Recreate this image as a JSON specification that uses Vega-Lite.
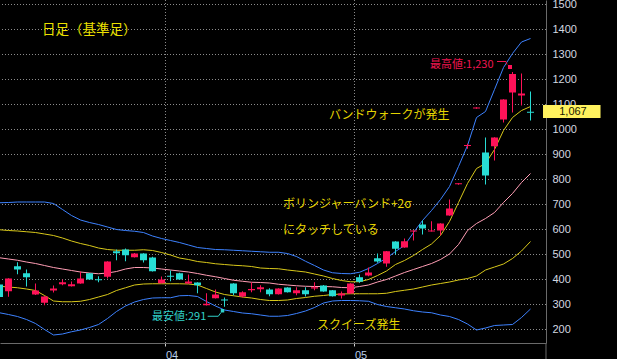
{
  "$schema": "https://vega.github.io/schema/vega-lite/v6.json",
  "width": 546,
  "height": 343,
  "autosize": {"type": "none"},
  "padding": {"left": 0, "top": 0, "right": 71, "bottom": 16},
  "background": "#000000",
  "config": {
    "view": {"stroke": null},
    "scale": {"continuousPadding": 0}
  },
  "datasets": {
    "k": [
      {"n":1,"o":380,"h":382,"l":328,"c":330,"u2":707,"u1":599,"m":487,"l1":373,"l2":267},
      {"n":2,"o":353,"h":405,"l":331,"c":404,"u2":708,"u1":596,"m":482,"l1":370,"l2":260},
      {"n":3,"o":453,"h":469,"l":421,"c":440,"u2":710,"u1":594,"m":477,"l1":367,"l2":252},
      {"n":4,"o":425,"h":440,"l":372,"c":409,"u2":710,"u1":591,"m":470,"l1":362,"l2":240},
      {"n":5,"o":340,"h":384,"l":338,"c":356,"u2":710,"u1":588,"m":464,"l1":356,"l2":224},
      {"n":6,"o":307,"h":333,"l":297,"c":332,"u2":710,"u1":582,"m":456,"l1":336,"l2":200},
      {"n":7,"o":356,"h":376,"l":348,"c":364,"u2":704,"u1":576,"m":448,"l1":314,"l2":178},
      {"n":8,"o":381,"h":400,"l":377,"c":389,"u2":680,"u1":566,"m":442,"l1":311,"l2":182},
      {"n":9,"o":373,"h":392,"l":372,"c":381,"u2":656,"u1":554,"m":436,"l1":311,"l2":191},
      {"n":10,"o":384,"h":432,"l":383,"c":404,"u2":638,"u1":544,"m":430,"l1":313,"l2":198},
      {"n":11,"o":425,"h":426,"l":399,"c":400,"u2":628,"u1":536,"m":426,"l1":320,"l2":208},
      {"n":12,"o":401,"h":413,"l":389,"c":397,"u2":620,"u1":526,"m":423,"l1":330,"l2":220},
      {"n":13,"o":411,"h":473,"l":404,"c":472,"u2":610,"u1":520,"m":426,"l1":340,"l2":244},
      {"n":14,"o":513,"h":520,"l":477,"c":505,"u2":600,"u1":517,"m":432,"l1":356,"l2":272},
      {"n":15,"o":520,"h":524,"l":473,"c":497,"u2":596,"u1":517,"m":442,"l1":367,"l2":294},
      {"n":16,"o":489,"h":506,"l":488,"c":504,"u2":593,"u1":517,"m":448,"l1":378,"l2":310},
      {"n":17,"o":504,"h":505,"l":468,"c":477,"u2":588,"u1":519,"m":448,"l1":382,"l2":320},
      {"n":18,"o":488,"h":491,"l":432,"c":433,"u2":574,"u1":516,"m":446,"l1":383,"l2":326},
      {"n":19,"o":385,"h":412,"l":384,"c":400,"u2":564,"u1":508,"m":442,"l1":383,"l2":327},
      {"n":20,"o":415,"h":436,"l":393,"c":411,"u2":556,"u1":498,"m":438,"l1":383,"l2":327},
      {"n":21,"o":425,"h":427,"l":399,"c":400,"u2":548,"u1":486,"m":434,"l1":383,"l2":335},
      {"n":22,"o":384,"h":420,"l":383,"c":392,"u2":538,"u1":480,"m":430,"l1":382,"l2":336},
      {"n":23,"o":388,"h":389,"l":345,"c":377,"u2":528,"u1":472,"m":424,"l1":378,"l2":332},
      {"n":24,"o":297,"h":345,"l":296,"c":303,"u2":524,"u1":468,"m":417,"l1":364,"l2":312},
      {"n":25,"o":325,"h":360,"l":324,"c":340,"u2":520,"u1":463,"m":411,"l1":350,"l2":294},
      {"n":26,"o":320,"h":328,"l":291,"c":316,"u2":519,"u1":460,"m":404,"l1":340,"l2":278},
      {"n":27,"o":384,"h":385,"l":337,"c":345,"u2":517,"u1":457,"m":397,"l1":335,"l2":272},
      {"n":28,"o":332,"h":353,"l":328,"c":349,"u2":515,"u1":455,"m":393,"l1":330,"l2":266},
      {"n":29,"o":357,"h":389,"l":349,"c":362,"u2":513,"u1":452,"m":389,"l1":326,"l2":263},
      {"n":30,"o":361,"h":377,"l":349,"c":369,"u2":511,"u1":446,"m":388,"l1":320,"l2":258},
      {"n":31,"o":360,"h":365,"l":333,"c":341,"u2":509,"u1":444,"m":386,"l1":316,"l2":253},
      {"n":32,"o":341,"h":365,"l":340,"c":364,"u2":509,"u1":443,"m":381,"l1":316,"l2":253},
      {"n":33,"o":368,"h":369,"l":348,"c":349,"u2":504,"u1":438,"m":378,"l1":318,"l2":256},
      {"n":34,"o":345,"h":369,"l":337,"c":357,"u2":492,"u1":434,"m":375,"l1":324,"l2":264},
      {"n":35,"o":357,"h":369,"l":332,"c":341,"u2":473,"u1":430,"m":373,"l1":328,"l2":274},
      {"n":36,"o":364,"h":389,"l":357,"c":369,"u2":456,"u1":422,"m":372,"l1":333,"l2":288},
      {"n":37,"o":376,"h":378,"l":351,"c":352,"u2":438,"u1":414,"m":372,"l1":336,"l2":306},
      {"n":38,"o":357,"h":358,"l":332,"c":333,"u2":427,"u1":404,"m":371,"l1":340,"l2":314},
      {"n":39,"o":336,"h":352,"l":324,"c":344,"u2":424,"u1":396,"m":368,"l1":342,"l2":316},
      {"n":40,"o":344,"h":385,"l":343,"c":384,"u2":423,"u1":391,"m":367,"l1":343,"l2":316},
      {"n":41,"o":409,"h":420,"l":387,"c":391,"u2":429,"u1":391,"m":372,"l1":343,"l2":315},
      {"n":42,"o":416,"h":448,"l":413,"c":428,"u2":444,"u1":400,"m":378,"l1":343,"l2":313},
      {"n":43,"o":485,"h":504,"l":467,"c":472,"u2":464,"u1":416,"m":390,"l1":343,"l2":300},
      {"n":44,"o":464,"h":514,"l":451,"c":513,"u2":486,"u1":434,"m":400,"l1":345,"l2":292},
      {"n":45,"o":552,"h":553,"l":500,"c":523,"u2":512,"u1":460,"m":414,"l1":352,"l2":287},
      {"n":46,"o":528,"h":564,"l":527,"c":553,"u2":536,"u1":476,"m":428,"l1":357,"l2":282},
      {"n":47,"o":592,"h":596,"l":556,"c":596,"u2":588,"u1":496,"m":440,"l1":362,"l2":275},
      {"n":48,"o":620,"h":636,"l":580,"c":604,"u2":636,"u1":520,"m":452,"l1":370,"l2":270},
      {"n":49,"o":592,"h":633,"l":592,"c":596,"u2":676,"u1":542,"m":464,"l1":378,"l2":267},
      {"n":50,"o":596,"h":625,"l":577,"c":624,"u2":720,"u1":576,"m":480,"l1":384,"l2":258},
      {"n":51,"o":656,"h":720,"l":655,"c":684,"u2":772,"u1":632,"m":502,"l1":390,"l2":252},
      {"n":52,"o":781,"h":785,"l":779,"c":785,"u2":852,"u1":708,"m":540,"l1":398,"l2":240},
      {"n":53,"o":934,"h":943,"l":923,"c":938,"u2":936,"u1":784,"m":596,"l1":404,"l2":222},
      {"n":54,"o":1084,"h":1089,"l":1083,"c":1088,"u2":1048,"u1":844,"m":624,"l1":414,"l2":198},
      {"n":55,"o":908,"h":968,"l":780,"c":816,"u2":1072,"u1":864,"m":644,"l1":438,"l2":206},
      {"n":56,"o":933,"h":969,"l":876,"c":968,"u2":1160,"u1":920,"m":668,"l1":450,"l2":216},
      {"n":57,"o":1040,"h":1121,"l":1028,"c":1120,"u2":1248,"u1":996,"m":708,"l1":462,"l2":218},
      {"n":58,"o":1148,"h":1230,"l":1068,"c":1222,"u2":1304,"u1":1048,"m":744,"l1":484,"l2":220},
      {"n":59,"o":1136,"h":1224,"l":1096,"c":1144,"u2":1350,"u1":1076,"m":788,"l1":514,"l2":248},
      {"n":60,"o":1071,"h":1152,"l":1036,"c":1067,"u2":1364,"u1":1092,"m":824,"l1":552,"l2":282}
    ]
  },
  "encoding": {
    "x": {"field": "n", "type": "quantitative", "title": null, "scale": {"domain": [1.0556, 61.7222], "nice": false, "zero": false, "padding": 0},
      "axis": {"values": [19.4444, 40.4444], "labelExpr": "datum.value < 30 ? '04' : '05'", "title": null, "zindex": 0,
        "grid": false, "domain": true, "domainColor": "#6a6a6a",
        "ticks": true, "tickSize": 3, "tickColor": "#d0d0d0", "labelColor": "#b8cce8", "labelFont": "Liberation Sans",
        "labelFontSize": 11, "labelAlign": "left", "labelDx": 2, "labelPadding": 3, "labelOverlap": false}}
  },
  "layer": [
    {
      "data": {"values": [{"g":200},{"g":300},{"g":400},{"g":500},{"g":600},{"g":700},{"g":800},{"g":900},{"g":1000},{"g":1100},{"g":1200},{"g":1300},{"g":1400},{"g":1500}]},
      "mark": {"type": "rule", "color": "#8c8c8c", "strokeWidth": 1, "strokeDash": [1, 2]},
      "encoding": {
        "x": null,
        "y": {"field": "g", "type": "quantitative", "title": null, "scale": {"domain": [146, 1518], "nice": false, "zero": false, "padding": 0},
          "axis": {"orient": "right", "zindex": 0, "values": [200,300,400,500,600,700,800,900,1000,1100,1200,1300,1400,1500], "format": "d", "title": null, "grid": false, "domain": true, "domainColor": "#6a6a6a", "ticks": false, "labelPadding": 6, "labelAlign": "left", "labelColor": "#d4d8e0", "labelFont": "Liberation Sans", "labelFontSize": 11, "labelOverlap": false}}
      }
    },
    {
      "data": {"values": [{"n": 19.4444}, {"n": 40.4444}]},
      "mark": {"type": "rule", "color": "#8c8c8c", "strokeWidth": 1, "strokeDash": [1, 2]},
      "encoding": {}
    },
    {
      "data": {"name": "k"},
      "mark": {"type": "line", "color": "#3d82ff", "strokeWidth": 1, "clip": true},
      "encoding": {"y": {"field": "u2", "type": "quantitative", "title": null,
        "axis": {"orient": "right", "zindex": 0, "values": [200,300,400,500,600,700,800,900,1000,1100,1200,1300,1400,1500], "format": "d", "title": null, "grid": false, "domain": true, "domainColor": "#6a6a6a", "ticks": false, "labelPadding": 6, "labelAlign": "left", "labelColor": "#d4d8e0", "labelFont": "Liberation Sans", "labelFontSize": 11, "labelOverlap": false}}}
    },
    {
      "data": {"name": "k"},
      "mark": {"type": "line", "color": "#3d82ff", "strokeWidth": 1, "clip": true},
      "encoding": {"y": {"field": "l2", "type": "quantitative", "title": null,
        "axis": {"orient": "right", "zindex": 0, "values": [200,300,400,500,600,700,800,900,1000,1100,1200,1300,1400,1500], "format": "d", "title": null, "grid": false, "domain": true, "domainColor": "#6a6a6a", "ticks": false, "labelPadding": 6, "labelAlign": "left", "labelColor": "#d4d8e0", "labelFont": "Liberation Sans", "labelFontSize": 11, "labelOverlap": false}}}
    },
    {
      "data": {"name": "k"},
      "mark": {"type": "line", "color": "#d8c81a", "strokeWidth": 1, "clip": true},
      "encoding": {"y": {"field": "u1", "type": "quantitative", "title": null,
        "axis": {"orient": "right", "zindex": 0, "values": [200,300,400,500,600,700,800,900,1000,1100,1200,1300,1400,1500], "format": "d", "title": null, "grid": false, "domain": true, "domainColor": "#6a6a6a", "ticks": false, "labelPadding": 6, "labelAlign": "left", "labelColor": "#d4d8e0", "labelFont": "Liberation Sans", "labelFontSize": 11, "labelOverlap": false}}}
    },
    {
      "data": {"name": "k"},
      "mark": {"type": "line", "color": "#d8c81a", "strokeWidth": 1, "clip": true},
      "encoding": {"y": {"field": "l1", "type": "quantitative", "title": null,
        "axis": {"orient": "right", "zindex": 0, "values": [200,300,400,500,600,700,800,900,1000,1100,1200,1300,1400,1500], "format": "d", "title": null, "grid": false, "domain": true, "domainColor": "#6a6a6a", "ticks": false, "labelPadding": 6, "labelAlign": "left", "labelColor": "#d4d8e0", "labelFont": "Liberation Sans", "labelFontSize": 11, "labelOverlap": false}}}
    },
    {
      "data": {"name": "k"},
      "mark": {"type": "line", "color": "#ff9db4", "strokeWidth": 1, "clip": true},
      "encoding": {"y": {"field": "m", "type": "quantitative", "title": null,
        "axis": {"orient": "right", "zindex": 0, "values": [200,300,400,500,600,700,800,900,1000,1100,1200,1300,1400,1500], "format": "d", "title": null, "grid": false, "domain": true, "domainColor": "#6a6a6a", "ticks": false, "labelPadding": 6, "labelAlign": "left", "labelColor": "#d4d8e0", "labelFont": "Liberation Sans", "labelFontSize": 11, "labelOverlap": false}}}
    },
    {
      "data": {"name": "k"},
      "mark": {"type": "rule", "strokeWidth": 1, "clip": true},
      "encoding": {
        "y": {"field": "l", "type": "quantitative", "title": null,
          "axis": {"orient": "right", "zindex": 0, "values": [200,300,400,500,600,700,800,900,1000,1100,1200,1300,1400,1500], "format": "d", "title": null, "grid": false, "domain": true, "domainColor": "#6a6a6a", "ticks": false, "labelPadding": 6, "labelAlign": "left", "labelColor": "#d4d8e0", "labelFont": "Liberation Sans", "labelFontSize": 11, "labelOverlap": false}},
        "y2": {"field": "h"},
        "color": {"condition": {"test": "datum.c > datum.o", "value": "#ff1258"}, "value": "#28dcd4"}
      }
    },
    {
      "data": {"name": "k"},
      "mark": {"type": "bar", "size": 7, "clip": true},
      "encoding": {
        "y": {"field": "o", "type": "quantitative", "title": null,
          "axis": {"orient": "right", "zindex": 0, "values": [200,300,400,500,600,700,800,900,1000,1100,1200,1300,1400,1500], "format": "d", "title": null, "grid": false, "domain": true, "domainColor": "#6a6a6a", "ticks": false, "labelPadding": 6, "labelAlign": "left", "labelColor": "#d4d8e0", "labelFont": "Liberation Sans", "labelFontSize": 11, "labelOverlap": false}},
        "y2": {"field": "c"},
        "color": {"condition": {"test": "datum.c > datum.o", "value": "#ff1258"}, "value": "#28dcd4"}
      }
    },
    {
      "data": {"values": [{"n": 5.72, "v": 1398, "t": "日足（基準足）"}]},
      "mark": {"type": "text", "align": "left", "baseline": "middle", "font": "Noto Sans CJK JP", "fontSize": 13.5, "color": "#ece000"},
      "encoding": {"y": {"field": "v", "type": "quantitative", "title": null,
        "axis": {"orient": "right", "zindex": 0, "values": [200,300,400,500,600,700,800,900,1000,1100,1200,1300,1400,1500], "format": "d", "title": null, "grid": false, "domain": true, "domainColor": "#6a6a6a", "ticks": false, "labelPadding": 6, "labelAlign": "left", "labelColor": "#d4d8e0", "labelFont": "Liberation Sans", "labelFontSize": 11, "labelOverlap": false}},
        "text": {"field": "t"}}
    },
    {
      "data": {"values": [
        {"n": 37.61, "v": 1060, "t": "バンドウォークが発生"},
        {"n": 32.5, "v": 702, "t": "ボリンジャーバンド+2σ"},
        {"n": 32.5, "v": 598, "t": "にタッチしている"},
        {"n": 36.28, "v": 218, "t": "スクイーズ発生"}
      ]},
      "mark": {"type": "text", "align": "left", "baseline": "middle", "font": "Noto Sans CJK JP", "fontSize": 12, "color": "#e4d400"},
      "encoding": {"y": {"field": "v", "type": "quantitative", "title": null,
        "axis": {"orient": "right", "zindex": 0, "values": [200,300,400,500,600,700,800,900,1000,1100,1200,1300,1400,1500], "format": "d", "title": null, "grid": false, "domain": true, "domainColor": "#6a6a6a", "ticks": false, "labelPadding": 6, "labelAlign": "left", "labelColor": "#d4d8e0", "labelFont": "Liberation Sans", "labelFontSize": 11, "labelOverlap": false}},
        "text": {"field": "t"}}
    },
    {
      "data": {"values": [{"n": 48.83, "v": 1260, "t": "最高値:1,230"}]},
      "mark": {"type": "text", "align": "left", "baseline": "middle", "font": "Noto Sans CJK JP", "fontSize": 11, "color": "#ee1650"},
      "encoding": {"y": {"field": "v", "type": "quantitative", "title": null,
        "axis": {"orient": "right", "zindex": 0, "values": [200,300,400,500,600,700,800,900,1000,1100,1200,1300,1400,1500], "format": "d", "title": null, "grid": false, "domain": true, "domainColor": "#6a6a6a", "ticks": false, "labelPadding": 6, "labelAlign": "left", "labelColor": "#d4d8e0", "labelFont": "Liberation Sans", "labelFontSize": 11, "labelOverlap": false}},
        "text": {"field": "t"}}
    },
    {
      "data": {"values": [{"n": 56.28, "v": 1272, "i": 1}, {"n": 57.28, "v": 1272, "i": 2}, {"n": 57.39, "v": 1260, "i": 3}]},
      "mark": {"type": "line", "color": "#ee1650", "strokeWidth": 1},
      "encoding": {"y": {"field": "v", "type": "quantitative", "title": null,
        "axis": {"orient": "right", "zindex": 0, "values": [200,300,400,500,600,700,800,900,1000,1100,1200,1300,1400,1500], "format": "d", "title": null, "grid": false, "domain": true, "domainColor": "#6a6a6a", "ticks": false, "labelPadding": 6, "labelAlign": "left", "labelColor": "#d4d8e0", "labelFont": "Liberation Sans", "labelFontSize": 11, "labelOverlap": false}},
        "order": {"field": "i"}}
    },
    {
      "data": {"values": [{"n": 57.72, "v": 1250}]},
      "mark": {"type": "square", "color": "#ff1258", "filled": true, "opacity": 1, "size": 16},
      "encoding": {"y": {"field": "v", "type": "quantitative", "title": null,
        "axis": {"orient": "right", "zindex": 0, "values": [200,300,400,500,600,700,800,900,1000,1100,1200,1300,1400,1500], "format": "d", "title": null, "grid": false, "domain": true, "domainColor": "#6a6a6a", "ticks": false, "labelPadding": 6, "labelAlign": "left", "labelColor": "#d4d8e0", "labelFont": "Liberation Sans", "labelFontSize": 11, "labelOverlap": false}}}
    },
    {
      "data": {"values": [{"n": 17.94, "v": 249, "t": "最安値:291"}]},
      "mark": {"type": "text", "align": "left", "baseline": "middle", "font": "Noto Sans CJK JP", "fontSize": 11, "color": "#30d0c8"},
      "encoding": {"y": {"field": "v", "type": "quantitative", "title": null,
        "axis": {"orient": "right", "zindex": 0, "values": [200,300,400,500,600,700,800,900,1000,1100,1200,1300,1400,1500], "format": "d", "title": null, "grid": false, "domain": true, "domainColor": "#6a6a6a", "ticks": false, "labelPadding": 6, "labelAlign": "left", "labelColor": "#d4d8e0", "labelFont": "Liberation Sans", "labelFontSize": 11, "labelOverlap": false}},
        "text": {"field": "t"}}
    },
    {
      "data": {"values": [{"n": 24.13, "v": 253, "i": 1}, {"n": 25.31, "v": 253, "i": 2}, {"n": 25.61, "v": 268, "i": 3}]},
      "mark": {"type": "line", "color": "#30d0c8", "strokeWidth": 1},
      "encoding": {"y": {"field": "v", "type": "quantitative", "title": null,
        "axis": {"orient": "right", "zindex": 0, "values": [200,300,400,500,600,700,800,900,1000,1100,1200,1300,1400,1500], "format": "d", "title": null, "grid": false, "domain": true, "domainColor": "#6a6a6a", "ticks": false, "labelPadding": 6, "labelAlign": "left", "labelColor": "#d4d8e0", "labelFont": "Liberation Sans", "labelFontSize": 11, "labelOverlap": false}},
        "order": {"field": "i"}}
    },
    {
      "data": {"values": [{"n": 25.78, "v": 275}]},
      "mark": {"type": "square", "color": "#30d0c8", "filled": true, "opacity": 1, "size": 12},
      "encoding": {"y": {"field": "v", "type": "quantitative", "title": null,
        "axis": {"orient": "right", "zindex": 0, "values": [200,300,400,500,600,700,800,900,1000,1100,1200,1300,1400,1500], "format": "d", "title": null, "grid": false, "domain": true, "domainColor": "#6a6a6a", "ticks": false, "labelPadding": 6, "labelAlign": "left", "labelColor": "#d4d8e0", "labelFont": "Liberation Sans", "labelFontSize": 11, "labelOverlap": false}}}
    },
    {
      "data": {"values": [{"n": 61.722, "a": 82, "b": 146}]},
      "mark": {"type": "rule", "color": "#6a6a6a", "clip": false},
      "encoding": {"y": {"field": "a", "type": "quantitative", "title": null,
        "axis": {"orient": "right", "zindex": 0, "values": [200,300,400,500,600,700,800,900,1000,1100,1200,1300,1400,1500], "format": "d", "title": null, "grid": false, "domain": true, "domainColor": "#6a6a6a", "ticks": false, "labelPadding": 6, "labelAlign": "left", "labelColor": "#d4d8e0", "labelFont": "Liberation Sans", "labelFontSize": 11, "labelOverlap": false}},
        "y2": {"field": "b"}}
    },
    {
      "data": {"values": [{"n": 61.39, "n2": 67.78, "lo": 1046, "hi": 1098}]},
      "mark": {"type": "rect", "color": "#fff25e", "clip": false},
      "encoding": {"x2": {"field": "n2"}, "y": {"field": "lo", "type": "quantitative", "title": null,
        "axis": {"orient": "right", "zindex": 0, "values": [200,300,400,500,600,700,800,900,1000,1100,1200,1300,1400,1500], "format": "d", "title": null, "grid": false, "domain": true, "domainColor": "#6a6a6a", "ticks": false, "labelPadding": 6, "labelAlign": "left", "labelColor": "#d4d8e0", "labelFont": "Liberation Sans", "labelFontSize": 11, "labelOverlap": false}},
        "y2": {"field": "hi"}}
    },
    {
      "data": {"values": [{"n": 64.72, "v": 1072, "t": "1,067"}]},
      "mark": {"type": "text", "align": "center", "baseline": "middle", "font": "Liberation Sans", "fontSize": 11, "color": "#1a1a00", "clip": false},
      "encoding": {"y": {"field": "v", "type": "quantitative", "title": null,
        "axis": {"orient": "right", "zindex": 0, "values": [200,300,400,500,600,700,800,900,1000,1100,1200,1300,1400,1500], "format": "d", "title": null, "grid": false, "domain": true, "domainColor": "#6a6a6a", "ticks": false, "labelPadding": 6, "labelAlign": "left", "labelColor": "#d4d8e0", "labelFont": "Liberation Sans", "labelFontSize": 11, "labelOverlap": false}},
        "text": {"field": "t"}}
    }
  ]
}
